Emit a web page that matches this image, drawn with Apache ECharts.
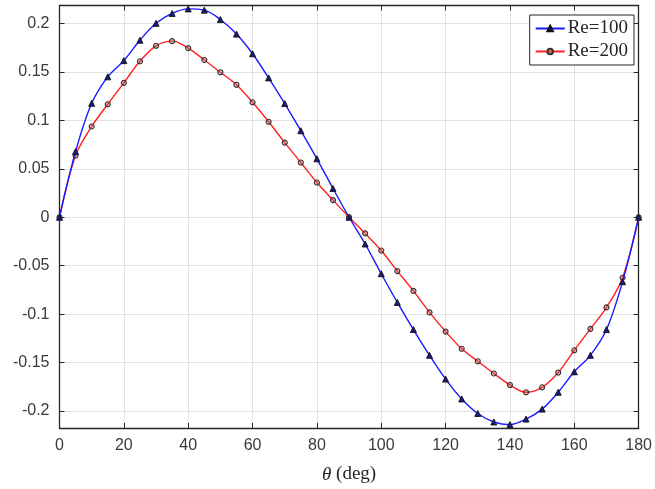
<!DOCTYPE html>
<html>
<head>
<meta charset="utf-8">
<script src="https://cdn.jsdelivr.net/npm/echarts@6/dist/echarts.min.js"></script>
<style>
html,body{margin:0;padding:0;background:#fff;}
#c{width:655px;height:489px;}
</style>
</head>
<body>
<div id="c"></div>
<script>
var theta = [0,5,10,15,20,25,30,35,40,45,50,55,60,65,70,75,80,85,90,95,100,105,110,115,120,125,130,135,140,145,150,155,160,165,170,175,180];
var re100 = [0,0.0678,0.1176,0.1449,0.1616,0.1827,0.2001,0.2103,0.2150,0.2137,0.2040,0.1890,0.1687,0.1438,0.1173,0.0893,0.0603,0.0297,0,
  -0.0276,-0.0583,-0.0879,-0.1159,-0.1425,-0.1670,-0.1875,-0.2025,-0.2113,-0.2140,-0.2083,-0.1980,-0.1806,-0.1595,-0.1425,-0.1159,-0.0665,0];
var re200 = [0,0.0637,0.0937,0.1166,0.1387,0.1609,0.1769,0.1817,0.1745,0.1623,0.1496,0.1367,0.1186,0.0985,0.0770,0.0565,0.0358,0.0177,0,
  -0.0167,-0.0344,-0.0556,-0.0760,-0.0982,-0.1180,-0.1357,-0.1486,-0.1612,-0.1731,-0.1806,-0.1755,-0.1602,-0.1373,-0.1152,-0.0930,-0.0624,0];
var seriesNames = ['Re=100','Re=200'];
var xLabel = '\u03b8';
var xUnit = '(deg)';

function pairs(ys){ return theta.map(function(t,i){ return [t, ys[i]]; }); }

var axisCol = '#262626';
var labelCol = '#3a3a3a';
var gridCol = '#e2e2e2';
var yMin = -0.2175, yMax = 0.2185;

var chart = echarts.init(document.getElementById('c'), null, {renderer:'canvas'});
chart.setOption({
  animation:false,
  backgroundColor:'#fff',
  grid:{left:59.5,right:13,top:5.5,bottom:57.3,containLabel:false},
  legend:{
    orient:'vertical', right:21, top:15,
    backgroundColor:'#fff', borderColor:axisCol, borderWidth:1,
    padding:[3,6,3,5], itemGap:2, itemWidth:29, itemHeight:7,
    textStyle:{fontFamily:'Liberation Serif', fontSize:19, color:axisCol, lineHeight:21, padding:[0,0,0,-2]},
    data:seriesNames
  },
  xAxis:[{
    type:'value', min:0, max:180, interval:20, position:'bottom',
    name:'{i|' + xLabel + '} ' + xUnit, nameLocation:'middle', nameGap:37,
    nameTextStyle:{fontFamily:'Liberation Serif', fontSize:19, color:axisCol,
      rich:{i:{fontFamily:'Liberation Serif', fontStyle:'italic', fontSize:19, color:axisCol}}},
    axisLine:{show:true, onZero:false, lineStyle:{color:axisCol, width:1.3}},
    axisTick:{show:true, inside:true, length:5, lineStyle:{color:axisCol}},
    axisLabel:{fontFamily:'Liberation Sans', fontSize:16, color:labelCol, margin:10},
    splitLine:{show:true, lineStyle:{color:gridCol, width:1}}
  },{
    type:'value', min:0, max:180, interval:20, position:'top',
    axisLine:{show:true, onZero:false, lineStyle:{color:axisCol, width:1.3}},
    axisTick:{show:true, inside:true, length:5, lineStyle:{color:axisCol}},
    axisLabel:{show:false}, splitLine:{show:false}
  }],
  yAxis:[{
    type:'value', min:yMin, max:yMax, splitNumber:9, position:'left',
    axisLine:{show:true, onZero:false, lineStyle:{color:axisCol, width:1.3}},
    axisTick:{show:true, inside:true, length:5, lineStyle:{color:axisCol}},
    axisLabel:{fontFamily:'Liberation Sans', fontSize:16, color:labelCol, margin:10, showMinLabel:false, showMaxLabel:false},
    splitLine:{show:true, lineStyle:{color:gridCol, width:1}}
  },{
    type:'value', min:yMin, max:yMax, splitNumber:9, position:'right',
    axisLine:{show:true, onZero:false, lineStyle:{color:axisCol, width:1.3}},
    axisTick:{show:true, inside:true, length:5, lineStyle:{color:axisCol}},
    axisLabel:{show:false}, splitLine:{show:false}
  }],
  series:[{
    name:seriesNames[0], type:'line', data:pairs(re100), smooth:0.35,
    symbol:'triangle', symbolSize:6,
    lineStyle:{color:'#1a1aff', width:1.4},
    itemStyle:{color:'#1a1a80', borderColor:'#111', borderWidth:0.9},
    z:3
  },{
    name:seriesNames[1], type:'line', data:pairs(re200), smooth:0.35,
    symbol:'circle', symbolSize:5,
    lineStyle:{color:'#ff2020', width:1.4},
    itemStyle:{color:'rgba(200,90,90,0.35)', borderColor:'#333', borderWidth:1.1},
    z:2
  }]
});
</script>
</body>
</html>
